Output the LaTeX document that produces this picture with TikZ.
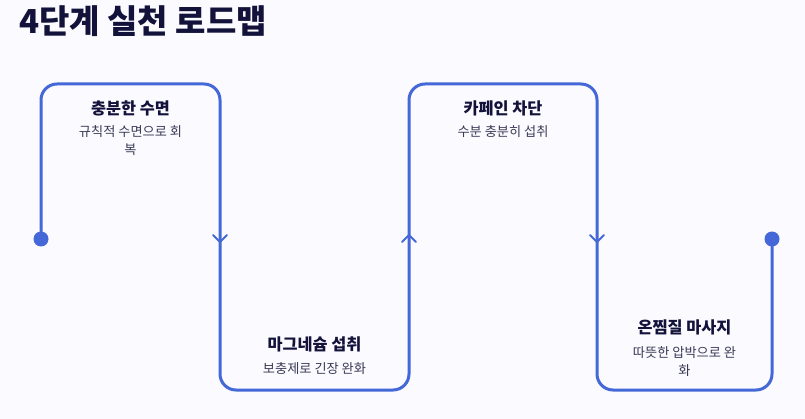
\documentclass[tikz,border=0pt]{standalone}
\usepackage{fontspec}
\setmainfont{Noto Sans CJK KR}
\definecolor{bg}{HTML}{FBFAFF}
\definecolor{road}{HTML}{4468D8}
\definecolor{ink}{HTML}{12123A}
\definecolor{sub}{HTML}{3A3A55}
\begin{document}
\begin{tikzpicture}[x=1pt,y=-1pt,
  roadline/.style={draw=road,line width=3pt,rounded corners=16pt},
  chev/.style={draw=road,line width=2pt,line cap=round,line join=round},
  dotmark/.style={fill=road,draw=none},
  headtxt/.style={font=\fontsize{16.3}{18}\selectfont\bfseries,text=ink,inner sep=0pt,anchor=base},
  subtxt/.style={font=\fontsize{13.2}{18}\selectfont,text=sub,inner sep=0pt,anchor=base,align=center},
  titletxt/.style={font=\fontsize{33}{38}\selectfont\bfseries,text=ink,inner sep=0pt,anchor=base west}]
\useasboundingbox[fill=bg] (0,0) rectangle (805,419);
\node[titletxt] (title) at (19,34) {4단계 실천 로드맵};
\coordinate (s) at (41,239);
\coordinate (c1) at (41,84);
\coordinate (c2) at (220,84);
\coordinate (c3) at (220,390);
\coordinate (c4) at (409,390);
\coordinate (c5) at (409,84);
\coordinate (c6) at (597,84);
\coordinate (c7) at (597,390);
\coordinate (c8) at (772,390);
\coordinate (e) at (772,239);
\draw[roadline] (s) -- (c1) -- (c2) -- (c3) -- (c4) -- (c5) -- (c6) -- (c7) -- (c8) -- (e);
\fill[dotmark] (s) circle (7.5);
\fill[dotmark] (e) circle (7.5);
\coordinate (a1) at (220,242);
\coordinate (a2) at (409,235);
\coordinate (a3) at (597,242);
\draw[chev] ([shift={(-7,-7)}]a1) -- (a1) -- ([shift={(7,-7)}]a1);
\draw[chev] ([shift={(-7,7)}]a2) -- (a2) -- ([shift={(7,7)}]a2);
\draw[chev] ([shift={(-7,-7)}]a3) -- (a3) -- ([shift={(7,-7)}]a3);
\node[headtxt] (h1) at (130.5,115) {충분한 수면};
\node[subtxt] (t1) at (130.5,155) {규칙적 수면으로 회\\복};
\node[headtxt] (h2) at (314.5,350) {마그네슘 섭취};
\node[subtxt] (t2) at (314.5,373) {보충제로 긴장 완화};
\node[headtxt] (h3) at (503,115) {카페인 차단};
\node[subtxt] (t3) at (503,137) {수분 충분히 섭취};
\node[headtxt] (h4) at (684.5,334) {온찜질 마사지};
\node[subtxt] (t4) at (684.5,375) {따뜻한 압박으로 완\\화};
\end{tikzpicture}
\end{document}
